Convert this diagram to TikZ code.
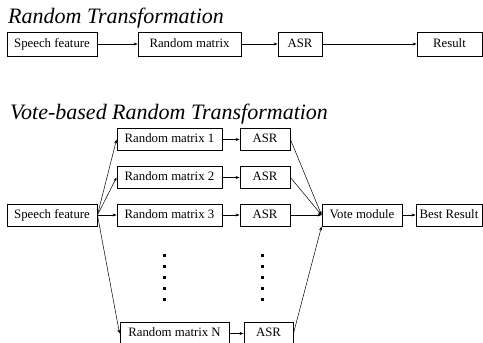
\documentclass[tikz,border=0pt]{standalone}
\usepackage{fontspec}
\setmainfont{Liberation Serif}
\usetikzlibrary{arrows.meta}

\begin{document}
\begin{tikzpicture}[x=1pt,y=-1pt,
  box/.style={draw, line width=0.9pt, inner sep=0pt, minimum height=22pt, text height=9pt, text depth=3pt, font=\fontsize{12.8}{15}\selectfont},
  title/.style={anchor=base west, inner sep=0pt, font=\fontsize{22}{26}\selectfont\itshape},
  arr/.style={-{Stealth[length=4pt,width=3pt]}, line width=0.5pt}]
\useasboundingbox (0,0) rectangle (483,343);

\node[title] (t1) at (8,23) {Random Transformation};
\node[box, minimum height=24pt, minimum width=90pt] (sfa) at (52,44) {Speech feature};
\node[box, minimum height=24pt, minimum width=103pt] (rma) at (189.5,44) {Random matrix};
\node[box, minimum height=24pt, minimum width=44pt] (asra) at (300,44) {ASR};
\node[box, minimum height=24pt, minimum width=65pt] (res) at (449.5,44) {Result};
\draw[arr] (sfa) -- (rma);
\draw[arr] (rma) -- (asra);
\draw[arr] (asra) -- (res);

\node[title] (t2) at (10,119) {Vote-based Random Transformation};
\node[box, minimum width=90pt] (sfb) at (52,215) {Speech feature};
\node[box, minimum width=105pt] (rm1) at (169.5,139.5) {Random matrix 1};
\node[box, minimum width=105pt] (rm2) at (169.5,177.5) {Random matrix 2};
\node[box, minimum width=105pt] (rm3) at (169.5,215) {Random matrix 3};
\node[box, minimum width=109pt] (rmN) at (174.5,333.5) {Random matrix N};
\node[box, minimum width=50pt] (asr1) at (265,139.5) {ASR};
\node[box, minimum width=50pt] (asr2) at (265,177.5) {ASR};
\node[box, minimum width=50pt] (asr3) at (265,215) {ASR};
\node[box, minimum width=49pt] (asrN) at (268.5,333.5) {ASR};
\node[box, minimum width=80pt] (vote) at (362,215) {Vote module};
\node[box, minimum width=66pt] (best) at (449,215) {Best Result};

\foreach \n in {1,2,3,N} {
  \draw[arr] (sfb.east) -- (rm\n.west);
  \draw[arr] (rm\n) -- (asr\n);
}
\foreach \n in {1,2,3} \draw[arr] (asr\n.east) -- (vote.west);
\draw[arr] (asrN.east) -- (vote.south west);
\draw[arr] (vote) -- (best);

\foreach \x in {164,262}
  \foreach \y in {255,266,277,288,299}
    \fill (\x-1.5,\y-1.5) rectangle (\x+1.5,\y+1.5);
\end{tikzpicture}
\end{document}
